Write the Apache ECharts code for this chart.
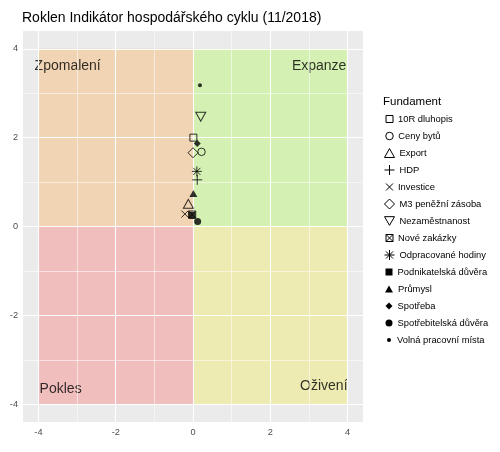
<!DOCTYPE html>
<html>
<head>
<meta charset="utf-8">
<script src="https://cdn.jsdelivr.net/npm/echarts@6/dist/echarts.min.js"></script>
<style>html,body{margin:0;padding:0;background:#fff}#c{width:500px;height:452px}</style>
</head>
<body>
<div id="c"></div>
<script>
// ---- data ----
const categories = ['10R dluhopis','Ceny bytů','Export','HDP','Investice','M3 peněžní zásoba','Nezaměstnanost','Nové zakázky','Odpracované hodiny','Podnikatelská důvěra','Průmysl','Spotřeba','Spotřebitelská důvěra','Volná pracovní místa'];
const xValues = [0.01, 0.22, -0.12, 0.11, -0.21, 0.00, 0.20, -0.02, 0.10, -0.03, 0.01, 0.11, 0.12, 0.18];
const yValues = [2.00, 1.68, 0.51, 1.05, 0.28, 1.66, 2.47, 0.27, 1.24, 0.25, 0.74, 1.87, 0.11, 3.18];
const majorTicks = [-4, -2, 0, 2, 4];
const minorTicks = [-3, -1, 1, 3];
const quadrantNames = ['Zpomalení', 'Expanze', 'Pokles', 'Oživení'];
const quadrantX0 = [-4, 0, -4, 0];
const quadrantX1 = [0, 4, 0, 4];
const quadrantY0 = [0, 0, -4, -4];
const quadrantY1 = [4, 4, 0, 0];
const labelX = [-4.1, 3.97, -3.97, 4.0];
const labelY = [3.62, 3.62, -3.66, -3.6];

// ---- styles ----
const quadrantColors = ['rgba(243,206,165,0.8)','rgba(206,242,165,0.8)','rgba(243,179,179,0.8)','rgba(237,235,163,0.8)'];
const labelAlign = ['left','right','left','right'];
const OPEN = {color:'rgba(0,0,0,0)', borderColor:'#000', borderWidth:1};
const FILLED = {color:'#000', borderColor:'#000', borderWidth:0};
const markerStyles = [
  {symbol:'rect', size:7, style:OPEN},
  {symbol:'circle', size:7.5, style:OPEN},
  {symbol:'triangle', size:[10,9], style:OPEN},
  {symbol:'path://M5,0L5,10M0,5L10,5', size:10, style:OPEN},
  {symbol:'path://M0,0L10,10M10,0L0,10', size:7, style:OPEN},
  {symbol:'diamond', size:10, style:OPEN},
  {symbol:'path://M0,0L10,0L5,8.66Z', size:[10,9], style:OPEN},
  {symbol:'path://M0,0L10,0L10,10L0,10ZM0,0L10,10M10,0L0,10', size:7, style:OPEN},
  {symbol:'path://M5,0L5,10M0,5L10,5M1.46,1.46L8.54,8.54M8.54,1.46L1.46,8.54', size:10, style:OPEN},
  {symbol:'rect', size:7, style:FILLED},
  {symbol:'triangle', size:[8,7], style:FILLED},
  {symbol:'diamond', size:7, style:FILLED},
  {symbol:'circle', size:7, style:FILLED},
  {symbol:'circle', size:4, style:FILLED}
];
const FONT = 'Liberation Sans, Arial, sans-serif';

const series = [];
// grid lines
series.push({
  type:'scatter', data:[], symbolSize:0, silent:true, z:1,
  markLine:{
    silent:true, symbol:'none', animation:false, label:{show:false},
    data: [].concat(
      majorTicks.map(v=>({xAxis:v, lineStyle:{color:'#fff', width:1.1, type:'solid'}})),
      majorTicks.map(v=>({yAxis:v, lineStyle:{color:'#fff', width:1.1, type:'solid'}})),
      minorTicks.map(v=>({xAxis:v, lineStyle:{color:'#fff', width:0.55, type:'solid'}})),
      minorTicks.map(v=>({yAxis:v, lineStyle:{color:'#fff', width:0.55, type:'solid'}}))
    ),
    emphasis:{disabled:true}
  }
});
// quadrants
series.push({
  type:'scatter', data:[], symbolSize:0, silent:true, z:2,
  markArea:{
    silent:true, animation:false,
    data: quadrantNames.map((n,i)=>[
      {coord:[quadrantX0[i], quadrantY0[i]], itemStyle:{color:quadrantColors[i]}},
      {coord:[quadrantX1[i], quadrantY1[i]]}
    ]),
    emphasis:{disabled:true}
  }
});
// quadrant labels
series.push({
  type:'scatter', symbolSize:0, silent:true, z:3,
  data: quadrantNames.map((n,i)=>({value:[labelX[i], labelY[i]], name:n,
    label:{show:true, position:'inside', align:labelAlign[i], verticalAlign:'middle',
      formatter:n, color:'#000', fontSize:14, fontFamily:FONT}})),
  emphasis:{disabled:true}
});
// points
categories.forEach((name,i)=>{
  const m = markerStyles[i];
  series.push({
    type:'scatter', name:name, z:5,
    symbol:m.symbol, symbolSize:m.size,
    itemStyle:m.style,
    data:[[xValues[i], yValues[i]]],
    emphasis:{disabled:true}
  });
});

// legends
const legends = categories.map((name,i)=>{
  const m = markerStyles[i];
  const w = Array.isArray(m.size) ? m.size[0] : m.size;
  const h = Array.isArray(m.size) ? m.size[1] : m.size;
  const yc = 119 + i*17;
  return {
    data:[{name:name, icon:m.symbol,
      itemStyle:{color:m.style.color, borderColor:'#000', borderWidth:m.style.borderWidth, opacity:1}}],
    orient:'vertical', left: 389 - w/2, top: yc - 6, padding:0,
    itemWidth:w, itemHeight:h, selectedMode:false,
    itemStyle:{borderWidth:m.style.borderWidth},
    textStyle:{fontSize:9.4, color:'#000', lineHeight:12, fontFamily:FONT,
      padding:[0,0,0,Math.max(0, 3 - w/2)]}
  };
});

const chart = echarts.init(document.getElementById('c'), null, {renderer:'canvas'});
chart.setOption({
  animation:false,
  title:[
    {text:'Roklen Indikátor hospodářského cyklu (11/2018)', left:22, top:10, padding:0,
      textStyle:{fontSize:14, fontWeight:'normal', color:'#000', lineHeight:16, fontFamily:FONT}},
    {text:'Fundament', left:383, top:95, padding:0,
      textStyle:{fontSize:11.5, fontWeight:'normal', color:'#000', lineHeight:14, fontFamily:FONT}}
  ],
  legend: legends,
  grid:{left:23, right:137, top:31, bottom:30, show:true, backgroundColor:'#EBEBEB', borderWidth:0},
  xAxis:{type:'value', min:-4.4, max:4.4, splitLine:{show:false}, axisLine:{show:false},
    axisTick:{show:true, customValues:majorTicks, length:3, lineStyle:{color:'#333', width:1}},
    axisLabel:{customValues:majorTicks, color:'#4D4D4D', fontSize:9.2, margin:6, fontFamily:FONT}},
  yAxis:{type:'value', min:-4.4, max:4.4, splitLine:{show:false}, axisLine:{show:false},
    axisTick:{show:true, customValues:majorTicks, length:3, lineStyle:{color:'#333', width:1}},
    axisLabel:{customValues:majorTicks, color:'#4D4D4D', fontSize:9.2, margin:5, fontFamily:FONT}},
  series: series
});
</script>
</body>
</html>
